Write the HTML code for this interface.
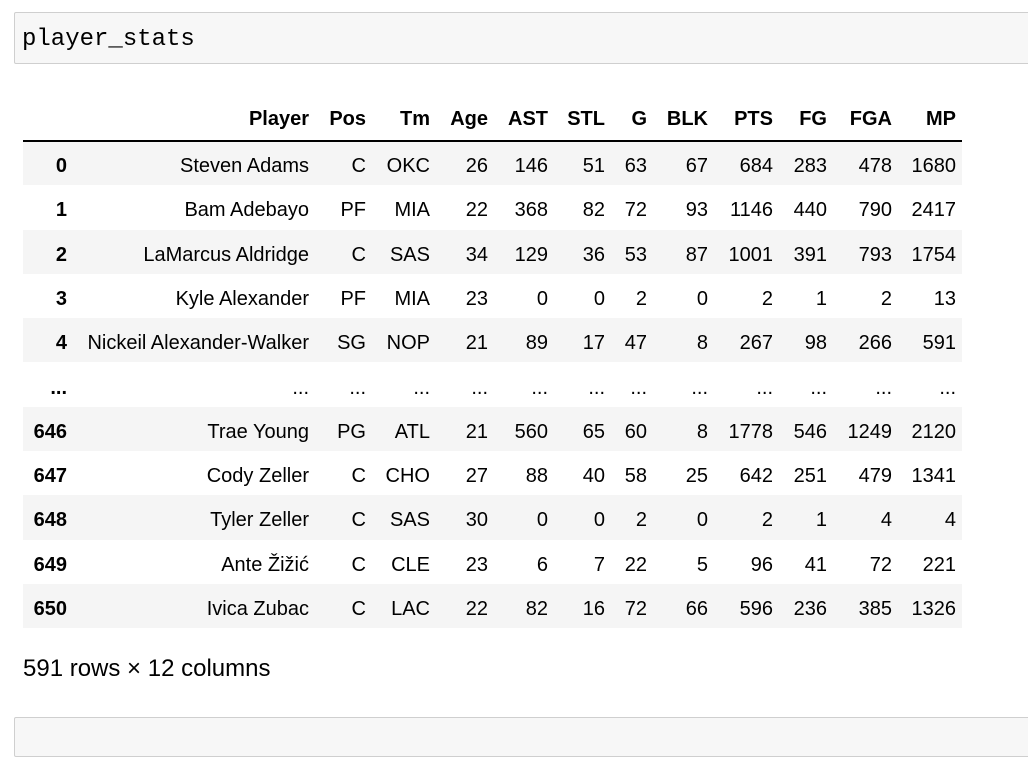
<!DOCTYPE html>
<html><head><meta charset="utf-8"><style>
body{margin:0;width:1028px;height:726px;background:#fff;position:relative;overflow:hidden;font-family:"Liberation Sans",Arial,sans-serif;color:#000}
.cell{position:absolute;left:14px;width:1030px;background:#f7f7f7;border:1px solid #cfcfcf;border-radius:2px;box-sizing:border-box}
.code{position:absolute;left:22px;top:25px;font-family:"Liberation Mono",monospace;font-size:24px;line-height:30px;color:#000}
.c{position:absolute;font-size:20px;line-height:44px;white-space:nowrap;text-align:right}
.band{position:absolute;left:23px;width:939px;height:44.3px;background:#f5f5f5}
</style></head><body>
<div class="cell" style="top:12px;height:52px"></div>
<div class="code">player_stats</div>
<div id="tbl"></div>
<div style="position:absolute;left:23px;top:140px;width:939px;height:2px;background:#000"></div>
<div class="c" style="left:23px;top:647px;text-align:left;font-size:24px">591 rows × 12 columns</div>
<div class="cell" style="top:717px;height:40px"></div>
<script>
const headers=["Player","Pos","Tm","Age","AST","STL","G","BLK","PTS","FG","FGA","MP"];
const index=["0","1","2","3","4","...","646","647","648","649","650"];
const rows=[
["Steven Adams","C","OKC","26","146","51","63","67","684","283","478","1680"],
["Bam Adebayo","PF","MIA","22","368","82","72","93","1146","440","790","2417"],
["LaMarcus Aldridge","C","SAS","34","129","36","53","87","1001","391","793","1754"],
["Kyle Alexander","PF","MIA","23","0","0","2","0","2","1","2","13"],
["Nickeil Alexander-Walker","SG","NOP","21","89","17","47","8","267","98","266","591"],
["...","...","...","...","...","...","...","...","...","...","...","..."],
["Trae Young","PG","ATL","21","560","65","60","8","1778","546","1249","2120"],
["Cody Zeller","C","CHO","27","88","40","58","25","642","251","479","1341"],
["Tyler Zeller","C","SAS","30","0","0","2","0","2","1","4","4"],
["Ante Žižić","C","CLE","23","6","7","22","5","96","41","72","221"],
["Ivica Zubac","C","LAC","22","82","16","72","66","596","236","385","1326"]];
const rights=[309,366,430,488,548,605,647,708,773,827,892,956];
const t=document.getElementById('tbl');
function mk(txt,right,top,bold,name){
 const d=document.createElement('div');
 d.className='c';
 d.textContent=txt;
 d.style.right=(1028-right)+'px';
 d.style.top=top+'px';
 if(bold)d.style.fontWeight='bold';
 
 
 t.appendChild(d);
}
for(let i=0;i<index.length;i++){
 const y=141+44.3*i;
 if(i%2===0){
  const b=document.createElement('div');
  b.className='band';
  b.style.top=y+'px';
  
  
  t.appendChild(b);
 }
}
headers.forEach((h,j)=>mk(h,rights[j],97,true,'column-header'));
for(let i=0;i<index.length;i++){
 const y=144+44.3*i;
 mk(index[i],67,y,true,'row-index');
 rows[i].forEach((v,j)=>mk(v,rights[j],y,false,'table-cell'));
}
</script>
</body></html>
